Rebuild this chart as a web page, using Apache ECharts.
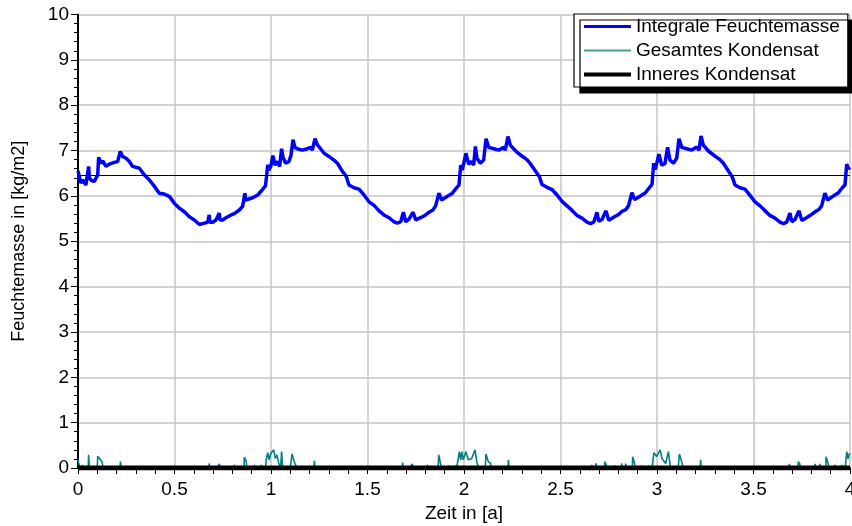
<!DOCTYPE html>
<html>
<head>
<meta charset="utf-8">
<script src="https://cdn.jsdelivr.net/npm/echarts@6/dist/echarts.min.js"></script>
<style>
html,body{margin:0;padding:0;background:#fff;}
#chart{width:852px;height:526px;}
</style>
</head>
<body>
<div id="chart"></div>
<script>
// ---- Data ----
const seriesNames = ['Integrale Feuchtemasse', 'Gesamtes Kondensat', 'Inneres Kondensat'];
const xAxisName = 'Zeit in [a]';
const yAxisName = 'Feuchtemasse in [kg/m2]';
const refLevel = 6.45;

// Integrale Feuchtemasse: time [a]
const massTime = [
 0.000,0.015,0.025,0.041,0.055,0.059,0.070,0.085,0.093,0.102,0.107,0.119,0.128,0.145,0.162,0.188,0.206,0.219,0.231,0.249,
 0.266,0.283,0.318,0.344,0.370,0.396,0.421,0.447,0.473,0.499,0.525,0.551,0.577,0.603,0.629,0.655,0.672,0.680,0.683,0.698,
 0.715,0.732,0.736,0.750,0.767,0.793,0.810,0.836,0.853,0.865,0.868,0.905,0.931,0.954,0.971,0.977,0.983,0.988,
 0.999,1.010,1.021,1.033,1.045,1.055,1.062,1.076,1.093,1.104,1.114,1.124,1.136,1.162,1.188,1.205,1.214,1.228,1.240,1.257,
 1.275,1.300,1.326,1.344,1.370,1.390,1.404,1.430,1.456,1.482,1.508,1.534,1.560,1.585,1.611,1.637,1.655,1.672,1.686,1.698,
 1.715,1.736,1.750,1.775,1.801,1.819,1.839,1.853,1.870,1.884,1.914,1.940,1.960,1.974,1.983,1.991,
 2.000,2.010,2.024,2.038,2.050,2.059,2.067,2.085,2.102,2.114,2.128,2.154,2.180,2.206,2.214,2.228,2.240,2.257,2.275,2.300,
 2.326,2.344,2.370,2.390,2.404,2.430,2.456,2.482,2.508,2.534,2.560,2.585,2.611,2.637,2.656,2.672,2.689,2.698,2.715,2.736,
 2.750,2.775,2.801,2.819,2.839,2.853,2.870,2.884,2.914,2.940,2.960,2.974,2.983,2.991,
 3.010,3.024,3.041,3.055,3.067,3.085,3.102,3.114,3.128,3.154,3.180,3.206,3.218,3.228,3.240,3.266,3.300,3.326,3.344,3.370,
 3.390,3.404,3.430,3.456,3.482,3.508,3.534,3.560,3.585,3.611,3.637,3.656,3.672,3.689,3.698,3.715,3.736,3.750,3.775,3.801,
 3.819,3.839,3.853,3.870,3.884,3.914,3.940,3.960,3.974,3.983,3.991,4.000
];
// Integrale Feuchtemasse: value [kg/m2]
const massValue = [
 6.55,6.28,6.35,6.24,6.65,6.39,6.34,6.32,6.39,6.46,6.85,6.72,6.77,6.65,6.70,6.74,6.76,6.98,6.87,6.83,
 6.76,6.65,6.61,6.46,6.35,6.21,6.06,6.04,5.99,5.84,5.73,5.65,5.54,5.47,5.37,5.40,5.42,5.58,5.42,5.42,
 5.47,5.62,5.47,5.47,5.52,5.58,5.61,5.69,5.77,6.06,5.91,5.96,6.02,6.13,6.22,6.43,6.69,6.57,
 6.65,6.89,6.68,6.76,6.65,7.04,6.85,6.72,6.76,6.90,7.24,7.07,7.04,7.01,7.04,7.07,7.01,7.26,7.13,7.04,
 6.94,6.87,6.79,6.72,6.54,6.43,6.24,6.18,6.15,6.02,5.87,5.79,5.67,5.58,5.52,5.43,5.40,5.43,5.64,5.43,
 5.49,5.64,5.47,5.52,5.58,5.64,5.69,5.78,6.06,5.91,5.99,6.06,6.17,6.24,6.68,6.57,
 6.61,6.94,6.70,6.76,6.68,7.09,6.83,6.72,6.79,7.26,7.07,7.04,7.01,7.07,7.01,7.31,7.12,7.04,6.96,6.88,
 6.80,6.71,6.55,6.43,6.25,6.19,6.14,6.02,5.88,5.78,5.68,5.57,5.51,5.42,5.39,5.42,5.64,5.44,5.48,5.67,
 5.46,5.53,5.59,5.66,5.70,5.79,6.07,5.92,6.00,6.07,6.18,6.25,6.72,6.58,
 6.92,6.68,6.71,7.07,6.79,6.72,6.83,7.26,7.07,7.04,7.01,7.08,7.01,7.32,7.12,6.99,6.88,6.80,6.72,6.55,
 6.42,6.24,6.18,6.15,6.01,5.87,5.78,5.67,5.57,5.51,5.42,5.39,5.42,5.62,5.43,5.48,5.67,5.46,5.52,5.59,
 5.65,5.70,5.78,6.06,5.91,6.00,6.07,6.18,6.24,6.70,6.60,6.63
];

// Gesamtes Kondensat: time [a]
const condTime = [
 0.000,0.008,0.010,0.022,0.023,0.024,0.053,0.055,0.059,0.100,0.102,0.112,0.124,0.128,0.130,0.218,0.220,0.224,
 0.678,0.680,0.683,0.728,0.730,0.734,0.740,0.742,0.808,0.810,0.812,0.860,0.862,0.872,0.874,0.912,0.914,0.916,
 0.948,0.950,0.952,0.972,0.975,0.983,0.990,0.999,1.014,1.022,1.031,1.040,1.050,1.055,1.060,1.064,
 1.100,1.109,1.120,1.130,1.134,1.222,1.225,1.228,
 1.680,1.682,1.686,1.728,1.730,1.740,1.742,1.808,1.811,1.814,1.866,1.869,1.880,1.882,1.920,1.921,1.923,
 1.958,1.960,1.962,1.972,1.976,1.983,1.989,1.996,2.010,2.022,2.040,2.057,2.066,2.075,
 2.110,2.114,2.126,2.138,2.140,2.228,2.230,2.233,
 2.660,2.662,2.665,2.680,2.684,2.688,2.728,2.730,2.740,2.742,2.780,2.782,2.784,2.815,2.817,2.820,2.836,2.838,2.840,
 2.872,2.874,2.884,2.886,2.920,2.921,2.923,2.955,2.957,2.959,2.975,2.980,2.984,2.998,3.016,3.026,3.036,3.045,3.059,3.068,3.070,
 3.110,3.116,3.128,3.135,3.224,3.226,3.229,
 3.684,3.686,3.689,3.730,3.732,3.740,3.742,3.817,3.819,3.822,3.843,3.845,3.847,3.874,3.876,3.888,3.890,
 3.920,3.922,3.924,3.955,3.957,3.960,3.975,3.983,3.990,3.997,4.000
];
// Gesamtes Kondensat: value [kg/m2]
const condValue = [
 0.18,0.18,0.00,0.00,0.07,0.00,0.00,0.29,0.00,0.00,0.26,0.24,0.14,0.10,0.00,0.00,0.14,0.00,
 0.00,0.10,0.00,0.00,0.09,0.08,0.09,0.00,0.00,0.07,0.00,0.00,0.24,0.14,0.00,0.00,0.07,0.00,
 0.00,0.07,0.00,0.00,0.18,0.34,0.18,0.32,0.40,0.21,0.29,0.10,0.03,0.36,0.04,0.00,
 0.00,0.31,0.14,0.12,0.00,0.00,0.16,0.00,
 0.00,0.12,0.00,0.00,0.09,0.07,0.00,0.00,0.07,0.00,0.00,0.29,0.07,0.00,0.00,0.06,0.00,
 0.00,0.07,0.00,0.00,0.36,0.18,0.36,0.18,0.36,0.18,0.21,0.40,0.14,0.00,
 0.00,0.31,0.14,0.10,0.00,0.00,0.18,0.00,
 0.00,0.07,0.00,0.00,0.10,0.00,0.00,0.14,0.10,0.00,0.00,0.06,0.00,0.00,0.10,0.00,0.00,0.10,0.00,
 0.00,0.25,0.10,0.00,0.00,0.06,0.00,0.00,0.06,0.00,0.00,0.20,0.34,0.25,0.40,0.21,0.25,0.10,0.36,0.07,0.00,
 0.00,0.31,0.14,0.00,0.00,0.18,0.00,
 0.00,0.09,0.00,0.00,0.14,0.09,0.00,0.00,0.09,0.00,0.00,0.09,0.00,0.00,0.25,0.07,0.00,
 0.00,0.07,0.00,0.00,0.07,0.00,0.00,0.36,0.20,0.32,0.30
];

// Inneres Kondensat
const innerTime = [0, 4];
const innerValue = [0, 0];

// Axis ticks
const xMin = 0, xMax = 4, xStep = 0.5;
const yMin = 0, yMax = 10, yStep = 1;

// ---- Chart ----
const zip = (t, v) => t.map((x, i) => [x, v[i]]);
const font = '"Liberation Sans", Arial, sans-serif';
const noMarker = {color: 'rgba(0,0,0,0)', borderColor: 'rgba(0,0,0,0)', borderWidth: 0};
const chart = echarts.init(document.getElementById('chart'), null, {renderer: 'canvas'});
chart.setOption({
  animation: false,
  backgroundColor: '#ffffff',
  textStyle: {fontFamily: font},
  grid: {left: 78, right: 2, top: 14.5, bottom: 58, containLabel: false, outerBoundsMode: 'none'},
  legend: {
    left: 574, top: 14, orient: 'vertical',
    data: [
      {name: seriesNames[0], itemStyle: noMarker, lineStyle: {color: '#0000ff', width: 3}},
      {name: seriesNames[1], itemStyle: noMarker, lineStyle: {color: '#40a0a0', width: 2}},
      {name: seriesNames[2], itemStyle: noMarker, lineStyle: {color: '#000000', width: 4}}
    ],
    itemWidth: 47, itemHeight: 14, itemGap: 5,
    padding: [3, 8, 3, 8],
    backgroundColor: '#ffffff', borderColor: '#000000', borderWidth: 1.2,
    shadowColor: '#000000', shadowBlur: 0, shadowOffsetX: 6, shadowOffsetY: 6,
    textStyle: {fontSize: 19, color: '#000', fontFamily: font},
    selectedMode: false
  },
  xAxis: {
    type: 'value', min: xMin, max: xMax, interval: xStep,
    name: xAxisName, nameLocation: 'middle', nameGap: 36,
    nameTextStyle: {fontSize: 19, color: '#000', fontFamily: font},
    axisLine: {show: true, onZero: false, lineStyle: {color: '#000', width: 2}},
    axisTick: {show: true, length: 6, lineStyle: {color: '#000', width: 1}},
    minorTick: {show: true, splitNumber: 5, length: 6, lineStyle: {color: '#000', width: 1}},
    axisLabel: {fontSize: 19, color: '#000', margin: 12, fontFamily: font},
    splitLine: {show: true, lineStyle: {color: '#c4c4c4', width: 1.5}}
  },
  yAxis: {
    type: 'value', min: yMin, max: yMax, interval: yStep,
    name: yAxisName, nameLocation: 'middle', nameGap: 50, nameRotate: 90,
    nameTextStyle: {fontSize: 18, color: '#000', fontFamily: font},
    axisLine: {show: true, lineStyle: {color: '#000', width: 2}},
    axisTick: {show: true, length: 7, lineStyle: {color: '#000', width: 1}},
    minorTick: {show: true, splitNumber: 5, length: 4, lineStyle: {color: '#000', width: 1}},
    axisLabel: {fontSize: 19, color: '#000', margin: 9, fontFamily: font},
    splitLine: {show: true, lineStyle: {color: '#c4c4c4', width: 1.5}}
  },
  series: [
    {
      name: seriesNames[0], type: 'line', data: zip(massTime, massValue),
      showSymbol: false, symbol: 'none',
      lineStyle: {color: '#0000ff', width: 3.5}, itemStyle: {color: '#0000ff'}, z: 3
    },
    {
      name: seriesNames[1], type: 'line', data: zip(condTime, condValue),
      showSymbol: false, symbol: 'none',
      lineStyle: {color: '#008080', width: 1.6}, itemStyle: {color: '#40a0a0'}, z: 4
    },
    {
      name: seriesNames[2], type: 'line', data: zip(innerTime, innerValue),
      showSymbol: false, symbol: 'none',
      lineStyle: {color: '#000000', width: 5}, itemStyle: {color: '#000000'}, z: 5,
      markLine: {
        silent: true, symbol: 'none', label: {show: false},
        lineStyle: {color: '#000', width: 1.2, type: 'solid'},
        data: [{yAxis: refLevel}]
      }
    }
  ]
});
</script>
</body>
</html>
